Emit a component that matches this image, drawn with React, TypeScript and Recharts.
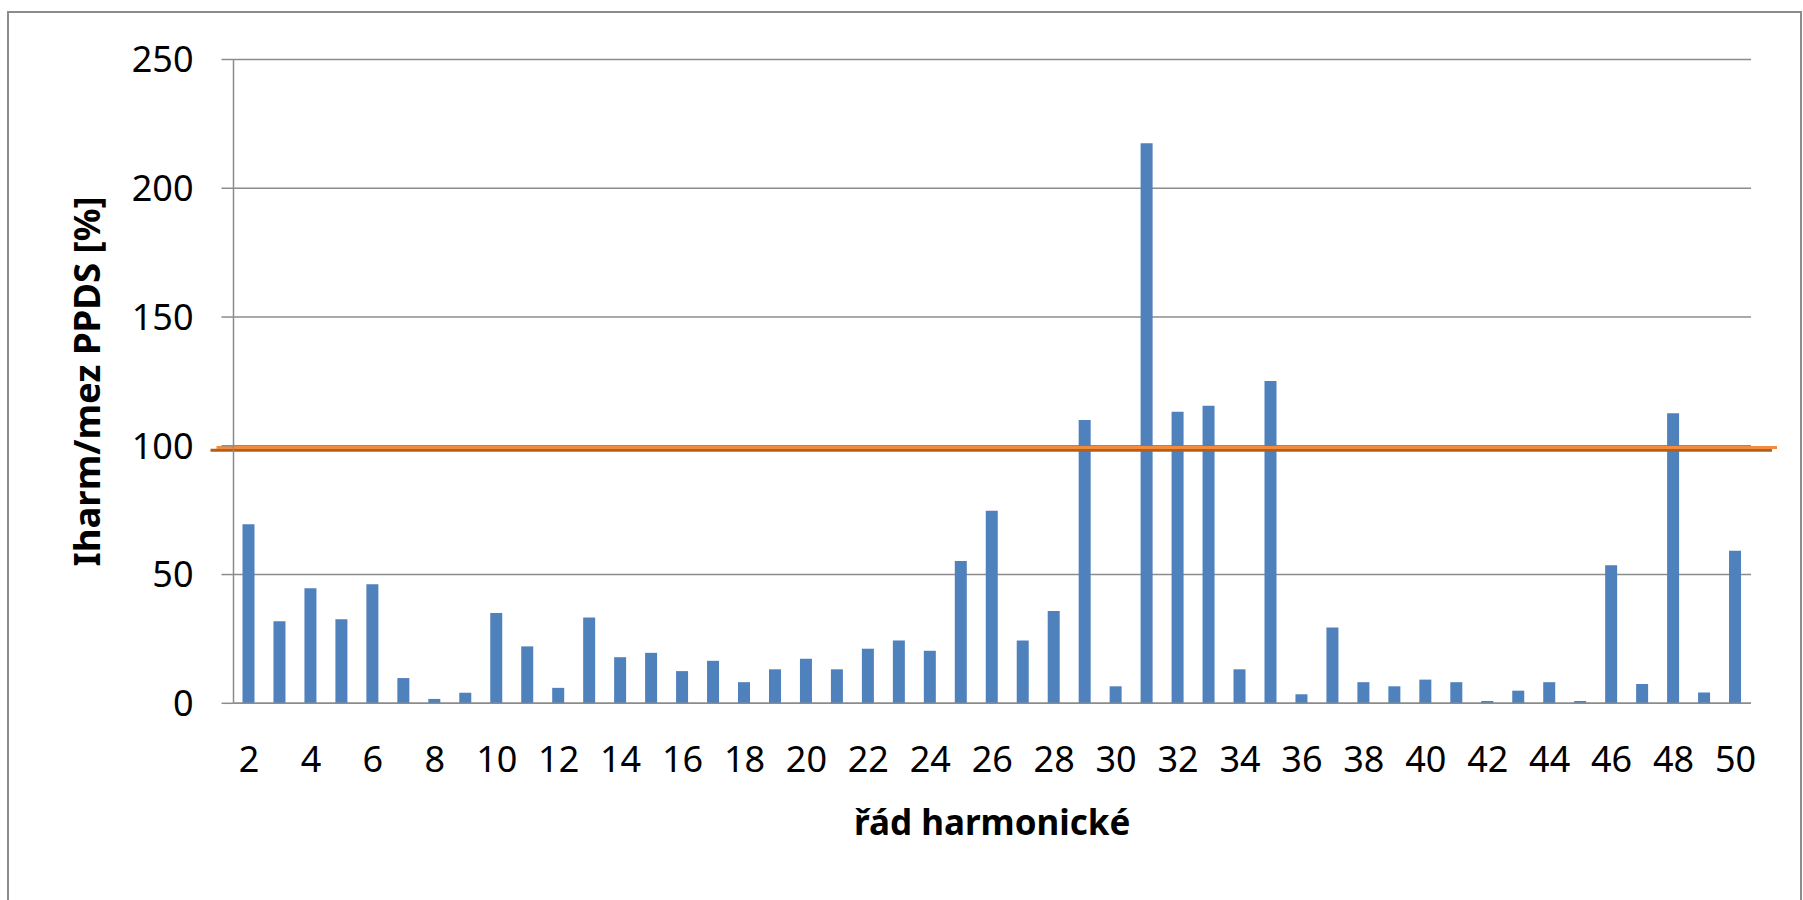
import React from 'react';
import { ComposedChart, Bar, XAxis, YAxis, CartesianGrid, ReferenceLine, Label } from 'recharts';

const harmonics = [2, 3, 4, 5, 6, 7, 8, 9, 10, 11, 12, 13, 14, 15, 16, 17, 18, 19, 20, 21, 22, 23, 24, 25, 26, 27, 28, 29, 30, 31, 32, 33, 34, 35, 36, 37, 38, 39, 40, 41, 42, 43, 44, 45, 46, 47, 48, 49, 50];
const ratioValues = [69.5, 31.9, 44.7, 32.6, 46.2, 9.8, 1.7, 4.1, 35.1, 22.1, 6.0, 33.3, 17.9, 19.6, 12.5, 16.5, 8.2, 13.2, 17.3, 13.2, 21.2, 24.4, 20.4, 55.3, 74.8, 24.4, 35.8, 110.0, 6.6, 217.5, 113.2, 115.5, 13.2, 125.2, 3.5, 29.4, 8.2, 6.6, 9.2, 8.2, 0.9, 4.9, 8.2, 0.9, 53.6, 7.5, 112.6, 4.2, 59.2];
const yTicks = [0, 50, 100, 150, 200, 250];
const limitValue = 100;

const xTitle = 'řád harmonické';
const yTitle = 'Iharm/mez PPDS [%]';

const data = harmonics.map((h, i) => ({ h, v: ratioValues[i] }));

const FONT = "'Noto Sans', sans-serif";
const GRID = '#8c8c8c';

const LimitShape = (p: any) => {
  const { x1, x2, y1 } = p;
  return (
    <g>
      <line x1={x1 - 23} x2={x2 + 21} y1={y1 + 4.5} y2={y1 + 4.5} stroke="#b45f19" strokeWidth={3} />
      <line x1={x1 - 17} x2={x2 + 26} y1={y1 + 1.8} y2={y1 + 1.8} stroke="#f28c3c" strokeWidth={3} />
    </g>
  );
};

export default function App() {
  return (
    <div style={{ position: 'absolute', left: 0, top: 0, width: 1803, height: 900, overflow: 'hidden', background: '#fff' }}>
      <div style={{ position: 'absolute', left: 7, top: 11, width: 1795, height: 1000, border: '2px solid #8c8c8c', boxSizing: 'border-box' }} />
      <div style={{ position: 'absolute', left: 0, top: 0 }}>
        <ComposedChart width={1803} height={900} data={data} margin={{ top: 59.5, right: 52, bottom: 0, left: 0 }} barSize={12}>
          <CartesianGrid vertical={false} stroke={GRID} strokeWidth={1.5} />
          <XAxis
            dataKey="h"
            type="category"
            interval={1}
            height={196.7}
            tickLine={false}
            tickSize={0}
            tickMargin={43}
            axisLine={{ stroke: GRID, strokeWidth: 1.5 }}
            tick={{ fill: '#000', fontSize: 36, fontFamily: FONT }}
          >
            <Label
              content={(props: any) => {
                const vb = props.viewBox;
                return (
                  <text x={vb.x + vb.width / 2} y={vb.y + 132} textAnchor="middle" fontFamily={FONT} fontWeight={700} fontSize={35} fill="#000">
                    {xTitle}
                  </text>
                );
              }}
            />
          </XAxis>
          <YAxis
            domain={[0, 250]}
            ticks={yTicks}
            width={233.5}
            tickSize={12}
            tickMargin={28}
            tickLine={{ stroke: GRID, strokeWidth: 1.5 }}
            axisLine={{ stroke: GRID, strokeWidth: 1.5 }}
            tick={{ fill: '#000', fontSize: 36, fontFamily: FONT }}
          >
            <Label
              content={(props: any) => {
                const vb = props.viewBox;
                const cx = 100;
                const cy = vb.y + vb.height / 2;
                return (
                  <text x={cx} y={cy} transform={`rotate(-90 ${cx} ${cy})`} textAnchor="middle" fontFamily={FONT} fontWeight={700} fontSize={36.5} fill="#000">
                    {yTitle}
                  </text>
                );
              }}
            />
          </YAxis>
          <Bar dataKey="v" fill="#4f81bd" isAnimationActive={false} />
          <ReferenceLine y={limitValue} ifOverflow="visible" shape={LimitShape} />
        </ComposedChart>
      </div>
    </div>
  );
}
